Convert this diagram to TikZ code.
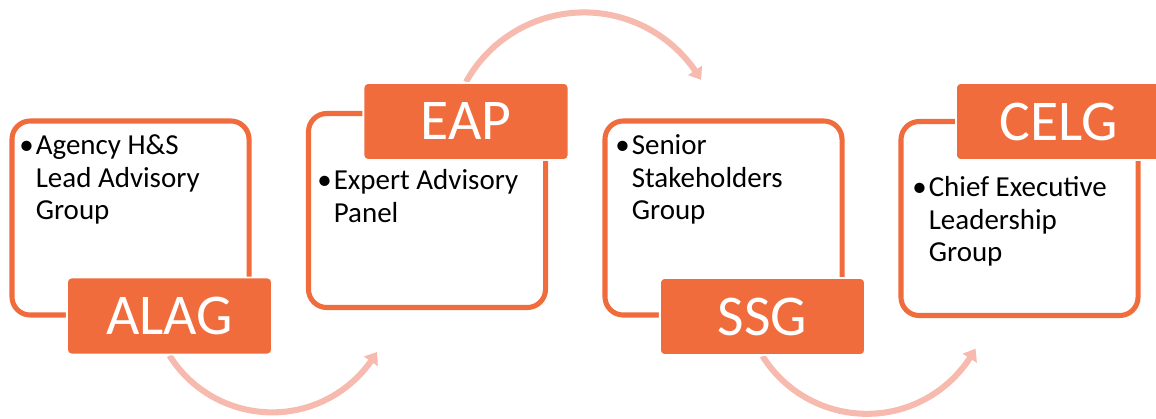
\documentclass[tikz,border=0pt]{standalone}
\usepackage{fontspec}
\setmainfont{Carlito}
\usepackage{xcolor}
\usepackage{tikz}
\usetikzlibrary{arrows.meta, bending, backgrounds}

\definecolor{boxorange}{RGB}{241,108,60}
\definecolor{arcpink}{RGB}{246,186,174}

% bullet followed by a block of lines that stay indented after it
\newcommand{\bulpt}[1]{\textbullet\hspace{1.5pt}\begin{tabular}[t]{@{}l@{}}#1\end{tabular}}

\begin{document}
\begin{tikzpicture}[
    x=0.025cm, y=-0.025cm,
    panel/.style={rectangle, rounded corners=13pt, draw=boxorange, line width=3.6pt, minimum width=5.925cm, minimum height=4.85cm, inner sep=0pt},
    tag/.style={rectangle, rounded corners=3pt, fill=boxorange, draw=white, line width=1.4pt, minimum width=5.125cm, minimum height=1.925cm, text=white, font=\fontsize{41}{41}\selectfont},
    blurb/.style={anchor=base west, inner sep=0pt, align=left, font=\fontsize{20.6}{23.1}\selectfont},
    arrow/.style={draw=arcpink, line width=4.3pt, -{Triangle[length=8pt, width=11.5pt, bend]}}
]
\useasboundingbox (0,0) rectangle (1156,419);

% outlined panels
\node[panel] (alagbox) at (130.5,218) {};
\node[panel] (eapbox) at (427,210.5) {};
\node[panel] (ssgbox) at (723.5,218) {};
\node[panel] (celgbox) at (1019.5,218.5) {};

% filled tags
\node[tag] (alag) at (169.5,316) {ALAG};
\node[tag] (eap) at (466,121.5) {EAP};
\node[tag] (ssg) at (762.5,316.5) {SSG};
\node[tag] (celg) at (1058.5,121.5) {CELG};

% arcs start under the tags
\begin{scope}[on background layer]
\draw[arrow] (alag.south) arc[start angle=148, end angle=30, radius=121];
\draw[arrow] (eap.north) arc[start angle=-151, end angle=-30, radius=135];
\draw[arrow] (ssg.south) arc[start angle=148, end angle=28, radius=123];
\end{scope}

% bullet texts
\node[blurb] (alagtxt) at (19,155) {\bulpt{Agency H\&S\\Lead Advisory\\Group}};
\node[blurb] (eaptxt) at (317,190) {\bulpt{Expert Advisory\\Panel}};
\node[blurb] (ssgtxt) at (615,155) {\bulpt{Senior\\Stakeholders\\Group}};
\node[blurb] (celgtxt) at (912,197) {\bulpt{Chief Executive\\Leadership\\Group}};

\end{tikzpicture}
\end{document}
